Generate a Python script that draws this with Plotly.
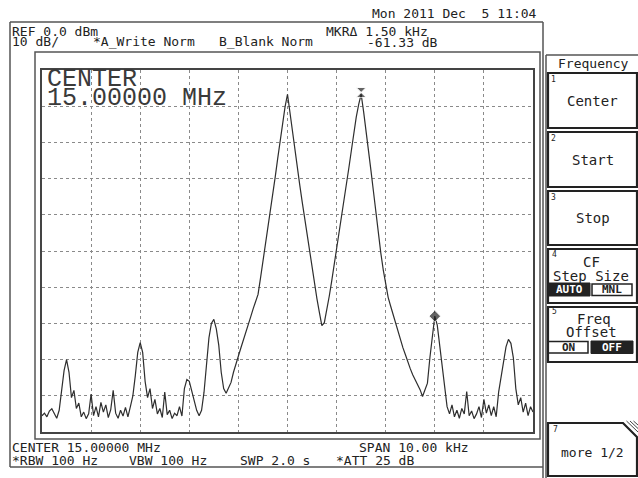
import numpy as np
import plotly.graph_objects as go

CENTER_MHZ = 15.0
SPAN_KHZ = 10.0
REF_DBM = 0.0
DB_PER_DIV = 10

# trace A levels (dBm), 201 sweep points evenly spaced across the span
level_dbm = [
    -95.5, -94.8, -95.8, -94.2, -93.6, -95.0, -96.2, -94.0, -89.0, -83.0,
    -80.0, -83.5, -90.5, -88.5, -93.5, -92.0, -95.8, -94.5, -96.3, -95.0,
    -89.5, -95.5, -93.0, -95.8, -91.8, -94.5, -92.5, -96.0, -93.8, -88.5,
    -94.8, -96.2, -94.0, -95.6, -93.2, -95.8, -93.0, -90.0, -84.5, -78.0,
    -75.3, -78.0, -86.0, -90.5, -88.0, -93.5, -91.0, -95.0, -93.5, -96.0,
    -89.0, -95.2, -94.0, -96.3, -94.8, -95.5, -93.0, -95.6, -88.0, -85.5,
    -86.0, -88.5, -91.5, -94.0, -95.5, -94.0, -89.0, -80.5, -74.0, -70.0,
    -68.9, -71.5, -76.0, -83.5, -88.0, -89.3, -88.0, -86.3, -83.5, -81.5,
    -79.0, -76.8, -74.8, -72.8, -70.4, -68.2, -66.0, -64.0, -62.0, -57.5,
    -53.0, -48.5, -44.0, -39.5, -34.5, -29.5, -24.5, -19.5, -14.5, -10.2,
    -6.7, -12.0, -17.0, -22.0, -27.0, -31.8, -36.5, -41.2, -45.8, -50.3,
    -54.8, -59.0, -63.2, -67.0, -70.6, -69.8, -66.5, -62.5, -58.3, -54.0,
    -49.5, -45.0, -40.5, -36.0, -31.5, -27.0, -22.3, -17.5, -13.0, -9.5,
    -6.7, -11.5, -16.5, -22.0, -27.8, -33.5, -39.4, -45.2, -50.5, -55.2,
    -59.5, -62.8, -65.2, -67.6, -70.0, -72.2, -74.2, -76.7, -78.6, -80.8,
    -82.5, -84.2, -85.6, -86.9, -88.3, -90.2, -88.5, -86.5, -79.5, -73.9,
    -68.0, -70.5, -76.0, -82.8, -88.0, -93.0, -95.0, -92.5, -95.8, -94.0,
    -96.2, -93.5, -95.0, -88.8, -95.5, -94.2, -96.3, -95.0, -93.0, -96.0,
    -91.0, -94.8, -92.5, -95.5, -93.0, -95.8, -89.0, -84.5, -80.0, -76.5,
    -74.4, -75.5, -79.5, -88.0, -92.5, -90.5, -94.5, -92.0, -95.5, -93.0,
    -94.5,
]
assert len(level_dbm) == 201

# markers: reference marker (hourglass) and delta marker (diamond)
marker_freq_khz = [1.5, 3.0]
marker_level_dbm = [-6.2, -68.0]
marker_symbols = ["hourglass", "diamond"]

# sweep grid: frequency offset from center (kHz)
freq_khz = np.linspace(-SPAN_KHZ / 2, SPAN_KHZ / 2, len(level_dbm))

# ---------------- layout helpers ----------------
W, H = 638, 478
PL, PT, PR, PB = 42, 70, 533, 432
MONO = "DejaVu Sans Mono"
INK = "#222222"
FRAME = "#555555"


def px(x):
    return (x - PL) / (PR - PL)


def py(y):
    return (PB - y) / (PB - PT)


shapes = []
annotations = []


def line(x0, y0, x1, y1, color=FRAME, w=1.5):
    shapes.append(dict(type="line", xref="paper", yref="paper",
                       x0=px(x0), y0=py(y0), x1=px(x1), y1=py(y1),
                       line=dict(color=color, width=w), layer="above"))


def rect(x0, y0, x1, y1, color=INK, w=2, fill="rgba(0,0,0,0)"):
    shapes.append(dict(type="rect", xref="paper", yref="paper",
                       x0=px(x0), y0=py(y0), x1=px(x1), y1=py(y1),
                       line=dict(color=color, width=w), fillcolor=fill,
                       layer="above"))


def text(x, y, s, size=13, anchor="left", family=MONO, color=INK):
    annotations.append(dict(xref="paper", yref="paper", x=px(x), y=py(y),
                            text=s, showarrow=False, xanchor=anchor,
                            yanchor="middle", borderpad=0,
                            font=dict(family=family, size=size, color=color)))


# outer screen frame
line(10, 22, 543, 22)
line(10, 22, 10, 467)
line(10, 467, 543, 467)
line(543, 22, 543, 478)
# inner trace frame
rect(35, 52, 540, 439, color=FRAME, w=1.5)

# header text
text(538, 13, "Mon 2011 Dec&nbsp;&nbsp;5 11:04", anchor="right")
text(11, 31, "REF 0.0 dBm")
text(11, 41, "10 dB/")
text(92, 41, "*A_Write Norm")
text(218, 41, "B_Blank Norm")
text(325, 31, "MKRΔ 1.50 kHz")
text(366, 43, "-61.33 dB")

# big center readout inside the graticule
text(46, 79, "CENTER", size=25, family="Liberation Mono", color="#3a3a3a")
text(46, 98.5, "15.00000 MHz", size=25, family="Liberation Mono", color="#3a3a3a")

# footer text
text(11, 447, "CENTER 15.00000 MHz")
text(11, 460, "*RBW 100 Hz")
text(128, 460, "VBW 100 Hz")
text(239, 460, "SWP 2.0 s")
text(358, 447, "SPAN 10.00 kHz")
text(335, 460, "*ATT 25 dB")

# soft-key panel
line(546, 55, 638, 55, color=FRAME, w=1.5)
line(546, 55, 546, 478, color=FRAME, w=1.5)
text(593, 64, "Frequency", size=13, anchor="center")

keys = [
    (73, 128, "1", ["Center"]),
    (132, 187, "2", ["Start"]),
    (191, 245, "3", ["Stop"]),
]
for top, bot, num, labels in keys:
    rect(548, top, 637, bot, w=2.2)
    text(550, top + 6, num, size=8)
    text(592.5, (top + bot) / 2, labels[0], size=14, anchor="center")

# key 4: CF step size
rect(548, 249, 637, 303, w=2.2)
text(551, 254, "4", size=8)
text(591, 262, "CF", size=14, anchor="center")
text(591, 275.5, "Step Size", size=14, anchor="center")
rect(548, 283, 590, 296, color=INK, w=1, fill=INK)
text(569, 289.5, "<b>AUTO</b>", size=11, anchor="center", color="white")
rect(592, 284, 632, 295.5, color=INK, w=1.5)
text(612, 289.5, "<b>MNL</b>", size=11, anchor="center")

# key 5: freq offset
rect(548, 307, 637, 362, w=2.2)
text(551, 311, "5", size=8)
text(594, 319, "Freq", size=14, anchor="center")
text(591, 332, "Offset", size=14, anchor="center")
rect(548, 341.5, 588, 353, color=INK, w=1.5)
text(568, 347.5, "<b>ON</b>", size=11, anchor="center")
rect(591, 341, 633, 353.5, color=INK, w=1, fill=INK)
text(612, 347.5, "<b>OFF</b>", size=11, anchor="center", color="white")

# key 7: more (cut corner)
path = "M {} {} L {} {} L {} {} L {} {} L {} {} Z".format(
    px(548), py(423), px(623), py(423), px(637), py(437),
    px(637), py(476), px(548), py(476))
shapes.append(dict(type="path", xref="paper", yref="paper", path=path,
                   line=dict(color=INK, width=2.2), layer="above"))
for k in (1, 2, 3):
    line(623 + 3.5 * k, 421, 638, 435.5 - 3.5 * k, color="#444", w=1)
text(552, 429, "7", size=8)
text(592, 452, "more 1/2", size=13, anchor="center")

# ---------------- figure ----------------
fig = go.Figure()
fig.add_trace(go.Scatter(x=freq_khz, y=level_dbm, mode="lines",
                         line=dict(color="#2e2e2e", width=1.2),
                         hoverinfo="skip"))
fig.add_trace(go.Scatter(x=marker_freq_khz, y=marker_level_dbm, mode="markers",
                         marker=dict(symbol=marker_symbols, size=[10, 9],
                                     color=INK),
                         hoverinfo="skip"))

bottom_dbm = REF_DBM - DB_PER_DIV * 10
fig.update_xaxes(range=[-SPAN_KHZ / 2, SPAN_KHZ / 2], dtick=SPAN_KHZ / 10,
                 tick0=-SPAN_KHZ / 2,
                 showticklabels=False, ticks="", zeroline=False,
                 showgrid=True, gridcolor="#8a8a8a", gridwidth=1,
                 griddash="dot", showline=True, mirror=True,
                 linecolor="#444444", linewidth=1.6)
fig.update_yaxes(range=[bottom_dbm, REF_DBM], dtick=DB_PER_DIV,
                 tick0=bottom_dbm,
                 showticklabels=False, ticks="", zeroline=False,
                 showgrid=True, gridcolor="#8a8a8a", gridwidth=1,
                 griddash="dot", showline=True, mirror=True,
                 linecolor="#444444", linewidth=1.6)
fig.update_layout(width=W, height=H,
                  margin=dict(l=PL, r=W - PR, t=PT, b=H - PB, pad=0),
                  paper_bgcolor="white", plot_bgcolor="white",
                  showlegend=False, shapes=shapes, annotations=annotations)

fig.write_html("out.html", config={"displayModeBar": False},
               post_script="document.body.style.margin='0px';"
                           "document.body.style.overflow='hidden';")
